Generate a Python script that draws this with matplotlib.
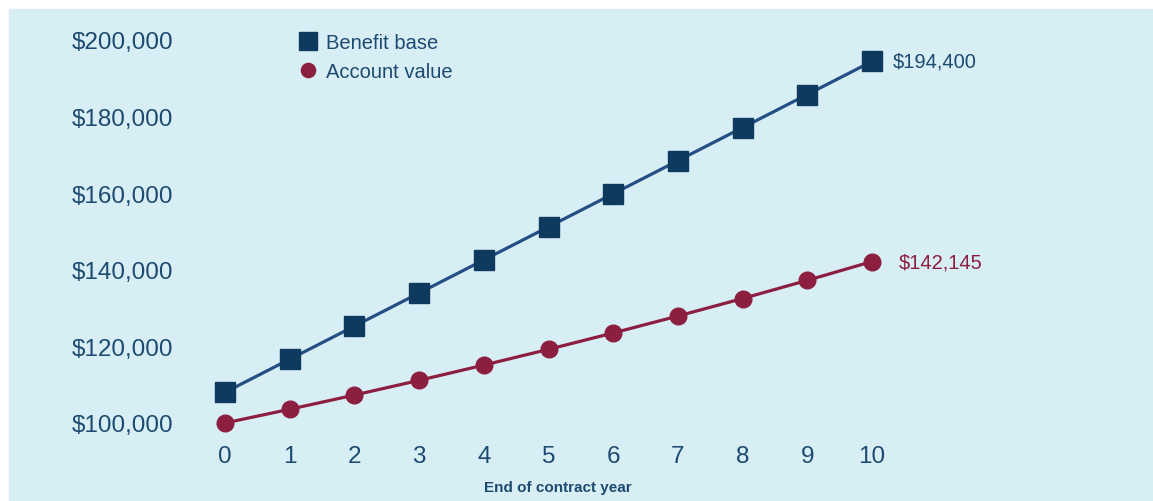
import matplotlib.pyplot as plt
from matplotlib.patches import Rectangle

years = list(range(11))
benefit_base = [108000, 116640, 125280, 133920, 142560, 151200,
                159840, 168480, 177120, 185760, 194400]
account_value = [100000, 103580, 107288, 111129, 115108, 119229,
                 123497, 127918, 132498, 137241, 142145]
y_ticks = [100000, 120000, 140000, 160000, 180000, 200000]
end_labels = ['$194,400', '$142,145']

navy = '#0f3a5f'
navy_line = '#244f84'
maroon = '#8c1f40'
text_col = '#1d4a70'
bg = '#d8eef5'

plt.rcParams['font.family'] = ['Liberation Sans', 'DejaVu Sans']

W, H = 1153, 502
fig = plt.figure(figsize=(W / 100, H / 100), dpi=100)
fig.patches.append(Rectangle((9 / W, 0), 1 - 9 / W, 1 - 10 / H,
                             transform=fig.transFigure, color=bg, zorder=-10))

ax = fig.add_axes([192.65 / W, (H - 439.3) / H, 711.7 / W, 406 / H])
ax.set_facecolor('none')
ax.set_xlim(-0.5, 10.5)
ax.set_ylim(96000, 202000)
for s in ax.spines.values():
    s.set_visible(False)

ax.plot(years, benefit_base, color=navy_line, lw=2.3, marker='s', ms=14.5,
        mfc=navy, mec=navy, label='Benefit base', zorder=3)
ax.plot(years, account_value, color=maroon, lw=2.3, marker='o', ms=12,
        mfc=maroon, mec=maroon, label='Account value', zorder=3)

ax.set_xticks(years)
ax.set_yticks(y_ticks)
ax.set_yticklabels(['${:,}'.format(v) for v in y_ticks])
ax.tick_params(axis='both', length=0, labelsize=17.5, labelcolor=text_col)
ax.tick_params(axis='y', pad=14)
ax.tick_params(axis='x', pad=5)

ax.annotate(end_labels[0], (years[-1], benefit_base[-1]), xytext=(15, 0),
            textcoords='offset points', va='center', ha='left',
            fontsize=14.5, color=text_col)
ax.annotate(end_labels[1], (years[-1], account_value[-1]), xytext=(19, 0),
            textcoords='offset points', va='center', ha='left',
            fontsize=14.5, color=maroon)

fig.text(558 / W, 1 - 488 / H, 'End of contract year', ha='center', va='center',
         fontsize=11, fontweight='bold', color=text_col,
         family=['Liberation Sans Narrow', 'Liberation Sans'])

leg = ax.legend(loc='upper left', bbox_to_anchor=(299 / W, 1 - 34 / H),
                bbox_transform=fig.transFigure, frameon=False, fontsize=14.5,
                handlelength=0.9, handletextpad=0.45, labelspacing=0.48,
                borderpad=0, borderaxespad=0, markerscale=0.85)
for h in leg.legend_handles:
    h.set_linestyle('none')
for t in leg.get_texts():
    t.set_color(text_col)

fig.savefig('out.png', dpi=100)
